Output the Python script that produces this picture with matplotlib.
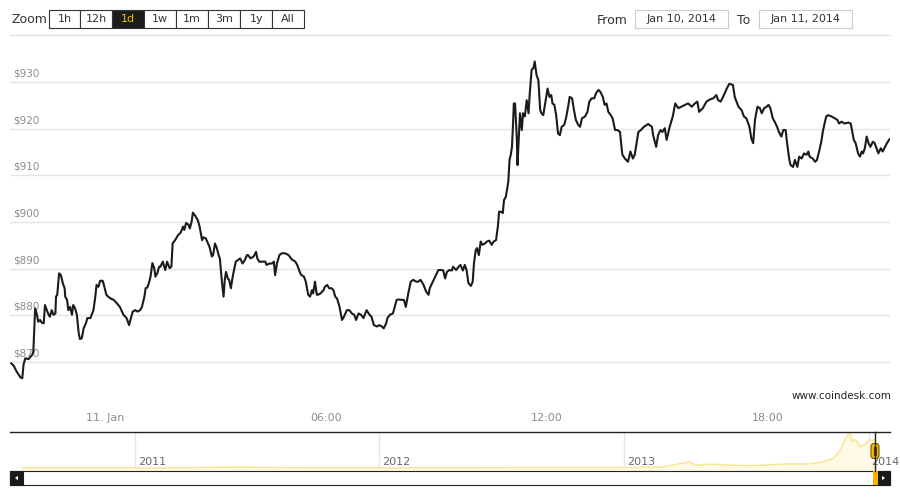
import matplotlib
matplotlib.use("Agg")
import matplotlib.pyplot as plt
import pandas as pd
from matplotlib.patches import Rectangle, FancyBboxPatch, Polygon

# BPI, minutes from 11 Jan 2014 00:00 and price in USD
minutes = [
    -153, -149, -144, -138, -135, -133, -130, -125, -119, -117, -114, -111, -109, -106, -103, -100, -98, -95, -92, -90,
    -87, -84, -81, -80, -78, -75, -72, -69, -66, -65, -62, -60, -57, -54, -52, -49, -46, -43, -41, -38,
    -35, -31, -29, -24, -22, -19, -16, -14, -11, -8, -4, -2, 2, 5, 9, 14, 19, 24, 30, 35,
    39, 42, 45, 49, 53, 57, 60, 64, 66, 69, 72, 74, 77, 80, 82, 85, 88,
    90, 94, 98, 101, 105, 108, 110, 114, 119, 123, 127, 129, 132, 136, 138, 141, 143, 147, 151, 154,
    158, 160, 164, 167, 170, 174, 176, 179, 182, 185, 187, 190, 193, 195, 197, 200, 202, 205, 207, 210,
    213, 217, 220, 224, 228, 231, 233, 237, 242, 246, 248, 251, 255, 261, 263, 268, 272, 275, 277, 280,
    284, 288, 293, 299, 304, 310, 313, 318, 320, 324, 327, 331,
    334, 337, 339, 342, 345, 347, 351, 356, 358, 362, 365, 369, 372, 375, 378, 382, 386, 388, 394, 398,
    402, 406, 409, 413, 417, 421, 426, 431, 434, 438, 443, 447, 451, 454, 458, 460, 464, 469, 472, 475,
    479, 483, 487, 490, 494, 498, 502, 507, 510, 514, 519, 523, 527, 529, 534, 538, 543, 548, 551, 554,
    557, 561, 565, 567, 572, 576, 579, 583, 586, 589, 592, 596, 599, 601, 604, 606, 609, 612, 615, 619,
    622, 626, 630, 633, 637, 640, 642,
    645, 648, 650, 653, 657, 659, 661, 663, 665, 666, 668, 671, 672, 674, 676, 679, 681, 684, 687, 690,
    692, 695, 698, 700, 703, 706, 709, 711, 714, 717, 721, 724, 727, 729, 732, 735, 738, 741, 744, 748,
    751, 755, 757, 761, 764, 767, 771, 774, 777, 782, 786, 789, 793, 797, 800, 804, 807, 811, 814, 817,
    820, 824, 827, 831, 835, 839, 842,
    843, 847, 852, 856, 860, 863, 869, 873, 878, 885, 891, 893, 898, 901, 905, 908, 912, 915, 920, 925,
    929, 934, 939, 945, 950, 956, 961, 965, 968, 974, 980, 986, 991, 996, 999, 1003, 1007, 1013, 1017, 1023,
    1026, 1032, 1037, 1041, 1045, 1050, 1053, 1056, 1059,
    1063, 1067, 1070, 1074, 1078, 1081, 1084, 1088, 1091, 1095, 1098, 1102, 1105, 1109, 1111, 1115, 1117, 1121, 1124, 1128,
    1131, 1135, 1139, 1143, 1146, 1148, 1153, 1157, 1160, 1164, 1167, 1170, 1175, 1178, 1184, 1189, 1193, 1196, 1200, 1205,
    1211, 1215, 1218, 1220, 1223, 1227, 1230, 1233, 1235, 1238, 1241, 1244, 1247, 1251, 1254, 1257, 1260, 1264, 1267, 1271,
    1274, 1278,
]
prices = [
    869.7, 869.2, 867.9, 866.7, 866.5, 869.4, 870.8, 870.6, 871.5, 872.2, 881.5, 880.1, 878.6, 879.0, 878.4, 878.3, 882.2, 881.1, 880.1, 879.7,
    881.1, 880.1, 880.4, 884.0, 884.4, 889.0, 888.6, 886.9, 885.8, 884.0, 883.3, 881.1, 881.8, 880.1, 882.2, 881.5, 880.1, 876.1, 874.9, 875.1,
    877.2, 878.4, 879.4, 879.4, 880.1, 881.1, 884.0, 886.5, 886.1, 887.4, 887.4, 886.5, 884.4, 884.0, 883.6, 883.3, 882.6, 881.8, 880.1, 879.4,
    877.9, 879.4, 880.8, 881.1, 880.8, 881.1, 881.8, 884.0, 885.8, 886.0, 887.2, 888.3, 891.2, 890.1, 888.3, 889.0, 890.4,
    890.4, 891.5, 889.7, 891.5, 890.1, 890.4, 895.4, 896.1, 897.2, 897.7, 899.0, 898.3, 899.8, 899.4, 898.6, 900.1, 902.0, 901.3, 900.4, 899.0,
    896.1, 896.7, 896.5, 895.6, 894.7, 892.6, 892.9, 895.4, 894.4, 892.9, 892.2, 887.6, 884.0, 887.6, 889.3, 887.9, 887.6, 885.8, 887.6, 889.7,
    891.5, 891.9, 892.2, 891.1, 891.9, 892.9, 892.9, 892.2, 892.6, 893.6, 892.2, 891.5, 891.5, 891.5, 890.8, 891.1, 891.1, 891.5, 888.6, 891.1,
    892.9, 893.3, 893.3, 892.9, 892.0, 891.5, 890.8, 889.0, 888.6, 888.3, 887.2, 884.4,
    884.0, 885.4, 884.7, 887.2, 884.4, 884.4, 884.7, 885.4, 886.1, 886.5, 885.8, 885.8, 885.4, 884.0, 883.6, 881.8, 879.0, 879.4, 881.1, 881.1,
    880.4, 880.1, 879.0, 880.4, 880.1, 879.4, 881.1, 880.1, 879.7, 877.9, 877.6, 877.9, 877.6, 877.2, 878.3, 879.4, 880.1, 880.4, 881.8, 883.3,
    883.4, 883.3, 883.3, 881.8, 884.7, 887.2, 887.6, 887.2, 887.2, 887.6, 886.5, 885.1, 884.4, 885.8, 887.2, 888.3, 889.7, 889.7, 889.6, 887.9,
    889.3, 889.7, 889.6, 890.4, 889.7, 890.4, 890.8, 889.6, 890.8, 889.7, 886.9, 886.3, 887.2, 891.1, 894.0, 894.4, 892.9, 895.8, 895.1, 895.4,
    895.8, 896.0, 895.1, 895.8, 896.1, 899.0, 902.2,
    902.2, 901.9, 904.7, 905.4, 908.6, 913.3, 914.4, 916.1, 921.9, 925.4, 925.4, 917.6, 912.2, 917.6, 923.3, 919.7, 923.3, 922.6, 926.1, 923.3,
    927.6, 932.6, 933.0, 934.4, 931.5, 930.4, 924.0, 923.3, 922.9, 925.4, 928.6, 926.8, 927.2, 925.4, 925.1, 922.9, 919.0, 918.6, 920.4, 920.8,
    922.2, 925.1, 926.8, 926.5, 924.0, 921.9, 920.8, 920.4, 922.2, 922.6, 923.6, 925.8, 926.5, 926.5, 927.6, 928.3, 927.9, 926.8, 925.1, 925.4,
    923.6, 922.9, 922.2, 919.7, 919.7, 919.3, 915.4,
    914.4, 913.6, 912.9, 915.1, 913.6, 914.4, 919.3, 919.7, 920.4, 921.0, 920.4, 918.6, 916.1, 918.6, 919.7, 919.3, 920.1, 917.6, 920.4, 922.6,
    925.4, 924.4, 924.7, 925.1, 925.4, 924.7, 925.4, 925.8, 923.6, 924.4, 925.8, 926.3, 926.5, 927.2, 926.1, 925.8, 926.8, 928.6, 929.6, 929.4,
    926.8, 924.7, 924.0, 922.6, 922.2, 920.4, 917.9, 916.9, 921.9,
    924.7, 924.4, 923.3, 924.4, 924.7, 925.1, 924.4, 922.2, 921.5, 920.4, 919.3, 918.3, 919.7, 919.7, 917.2, 913.3, 912.2, 911.8, 913.3, 911.8,
    914.0, 913.6, 914.7, 914.4, 915.1, 914.0, 913.6, 912.9, 913.3, 915.4, 917.2, 919.7, 922.6, 922.9, 922.6, 922.2, 921.9, 921.1, 921.5, 921.1,
    921.3, 921.1, 919.0, 917.6, 916.9, 914.7, 914.0, 915.1, 914.7, 915.8, 918.3, 916.9, 916.1, 917.2, 916.9, 915.8, 914.7, 915.8, 915.1, 916.1,
    916.9, 917.7,
]

y_ticks = [870, 880, 890, 900, 910, 920, 930]
y_labels = ["$870", "$880", "$890", "$900", "$910", "$920", "$930"]
x_tick_minutes = [0, 360, 720, 1080]
x_tick_labels = ["11. Jan", "06:00", "12:00", "18:00"]

# navigator: whole history
nav_dates = ["2010-07-17", "2010-11-08", "2011-02-10", "2011-06-08", "2011-08-01", "2011-11-18",
             "2012-03-01", "2012-08-17", "2012-12-31", "2013-02-28", "2013-04-09", "2013-04-16",
             "2013-05-10", "2013-07-05", "2013-08-31", "2013-10-01", "2013-10-25", "2013-11-10",
             "2013-11-20", "2013-11-28", "2013-12-04", "2013-12-07", "2013-12-10", "2013-12-14",
             "2013-12-19", "2013-12-25", "2014-01-03", "2014-01-11"]
nav_prices = [0.07, 0.3, 1, 30, 12, 2.5, 5, 13, 13, 33, 200, 90, 120, 70, 130, 130, 200, 320,
              600, 1000, 1140, 870, 950, 880, 700, 760, 930, 900]
nav_years = [2011, 2012, 2013, 2014]

zoom_buttons = ["1h", "12h", "1d", "1w", "1m", "3m", "1y", "All"]
selected_button = "1d"
date_from = "Jan 10, 2014"
date_to = "Jan 11, 2014"

fig = plt.figure(figsize=(9, 5), dpi=100)

# main chart
t0 = pd.Timestamp("2014-01-11")
times = t0 + pd.to_timedelta(minutes, unit="m")
ax = fig.add_axes([10 / 900, 0.2, 880 / 900, 0.72])
ax.plot(times, prices, color="#1b1b1b", lw=1.5, zorder=3)
ax.set_xlim(t0 + pd.Timedelta(minutes=-155), t0 + pd.Timedelta(minutes=1279))
ax.set_ylim(861.85, 939.0)
for v, lab in zip(y_ticks, y_labels):
    ax.axhline(v, color="#e4e4e4", lw=1, zorder=1)
    ax.annotate(lab, xy=(0, v), xycoords=("axes fraction", "data"), xytext=(2, 2.5),
                textcoords="offset points", fontsize=7.5, color="#8c8c8c", va="bottom", zorder=2)
for s in ax.spines.values():
    s.set_visible(False)
ax.set_yticks([])
ax.set_xticks([t0 + pd.Timedelta(minutes=m) for m in x_tick_minutes])
ax.set_xticklabels(x_tick_labels, color="#8c8c8c", fontsize=8)
ax.tick_params(axis="x", length=0, pad=9.5)
ax.patch.set_visible(False)

fig.text(891 / 900, 1 - 396 / 500, "www.coindesk.com", ha="right", va="center", fontsize=7.5, color="#222222")

# navigator
nav = fig.add_axes([10 / 900, 1 - 470.7 / 500, 880 / 900, 39 / 500])
nav_t = pd.to_datetime(nav_dates)
nav.fill_between(nav_t, nav_prices, -91, color="#fff9e6", zorder=1)
nav.plot(nav_t, nav_prices, color="#fde6a0", lw=1.2, zorder=2)
nav.set_xlim(pd.Timestamp("2010-06-28"), pd.Timestamp("2014-02-02"))
nav.set_ylim(-91, 1194)
for yr in nav_years:
    d = pd.Timestamp(f"{yr}-01-01")
    nav.axvline(d, color="#e6e6e6", lw=1, zorder=0)
    nav.annotate(str(yr), xy=(d, 0), xycoords=("data", "axes fraction"), xytext=(2, 2.5),
                 textcoords="offset points", fontsize=8, color="#666666", va="bottom")
nav.set_xticks([])
nav.set_yticks([])
for k, s in nav.spines.items():
    s.set_visible(k == "top")
nav.spines["top"].set_color("#222222")
nav.spines["top"].set_linewidth(1)

# controls drawn in pixel space
ov = fig.add_axes([0, 0, 1, 1], zorder=5)
ov.set_xlim(0, 900)
ov.set_ylim(500, 0)
ov.axis("off")

ov.text(11, 19.5, "Zoom", fontsize=9, color="#333333", va="center")
edges = [49, 80.3, 112.3, 144.3, 175.7, 208.3, 240.3, 272.3, 304]
for i, lab in enumerate(zoom_buttons):
    sel = lab == selected_button
    ov.add_patch(Rectangle((edges[i], 10), edges[i + 1] - edges[i], 18.3,
                           fc="#1c1c1c" if sel else "white", ec="#333333", lw=0.8))
    ov.text((edges[i] + edges[i + 1]) / 2, 19.5, lab, ha="center", va="center", fontsize=8,
            color="#f2c200" if sel else "#333333")
ov.plot([10, 890], [34.5, 34.5], color="#e2e2e2", lw=1)

ov.text(597, 20, "From", fontsize=9, color="#333333", va="center")
ov.add_patch(Rectangle((635, 10), 93, 18.3, fc="white", ec="#cccccc", lw=0.8))
ov.text(681.5, 19.5, date_from, ha="center", va="center", fontsize=8, color="#333333")
ov.text(737, 20, "To", fontsize=9, color="#333333", va="center")
ov.add_patch(Rectangle((759, 10), 93, 18.3, fc="white", ec="#cccccc", lw=0.8))
ov.text(805.5, 19.5, date_to, ha="center", va="center", fontsize=8, color="#333333")

# scrollbar
ov.add_patch(Rectangle((10, 471), 880, 14, fc="white", ec="#222222", lw=0.8))
ov.add_patch(Rectangle((10, 471), 13, 14, fc="#1a1a1a", ec="#1a1a1a", lw=0.8))
ov.add_patch(Polygon([(15, 478), (18, 475.8), (18, 480.2)], closed=True, fc="white", ec="none"))
ov.add_patch(Rectangle((877.5, 471), 12.5, 14, fc="#1a1a1a", ec="#1a1a1a", lw=0.8))
ov.add_patch(Polygon([(885, 478), (882, 475.8), (882, 480.2)], closed=True, fc="white", ec="none"))
ov.add_patch(Rectangle((873, 471), 4.5, 14, fc="#f5b400", ec="none"))

# navigator handle
ov.plot([875, 875], [432, 471], color="#222222", lw=1)
ov.add_patch(FancyBboxPatch((871, 443.5), 8, 15, boxstyle="round,pad=0,rounding_size=3",
                            fc="#f7b500", ec="#7a5a00", lw=0.8))
ov.plot([874, 874], [447, 455], color="#5a4000", lw=0.8)
ov.plot([876, 876], [447, 455], color="#5a4000", lw=0.8)

fig.savefig("out.png", dpi=100)
